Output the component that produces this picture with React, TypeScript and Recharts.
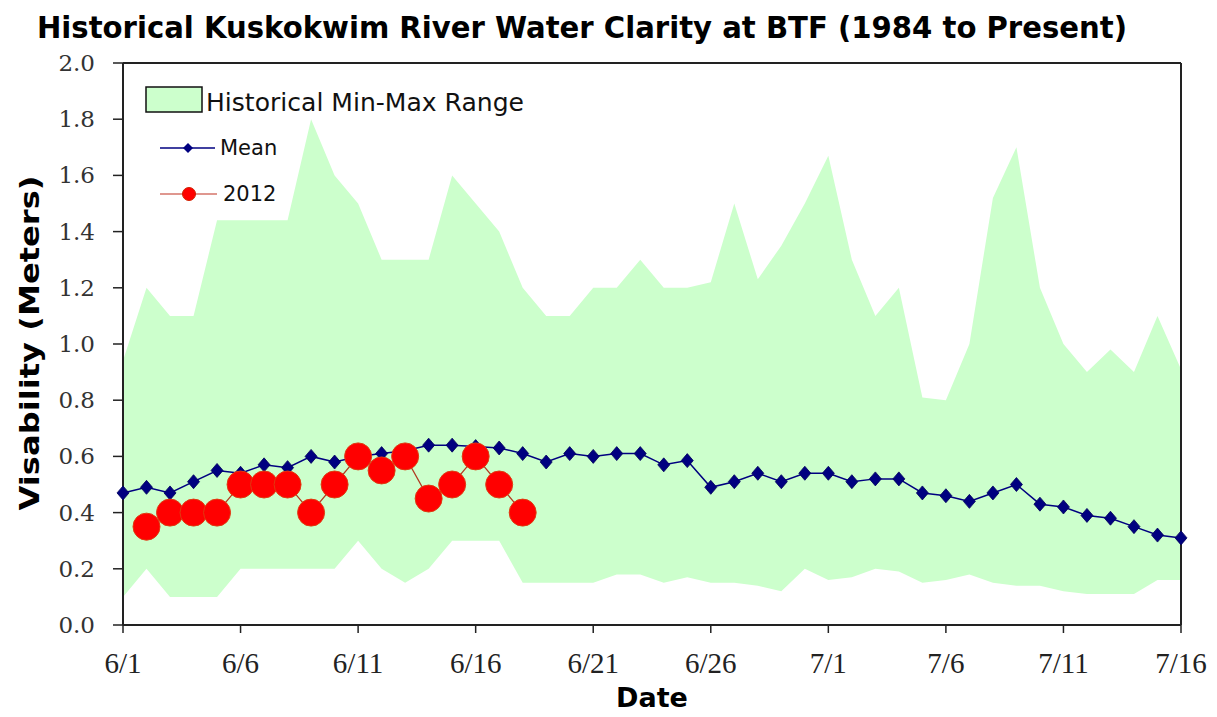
import React from 'react';
import {
  ComposedChart, Area, Line, XAxis, YAxis, ReferenceLine
} from 'recharts';

const dates = [
  '6/1', '6/2', '6/3', '6/4', '6/5', '6/6', '6/7', '6/8', '6/9', '6/10',
  '6/11', '6/12', '6/13', '6/14', '6/15', '6/16', '6/17', '6/18', '6/19', '6/20',
  '6/21', '6/22', '6/23', '6/24', '6/25', '6/26', '6/27', '6/28', '6/29', '6/30',
  '7/1', '7/2', '7/3', '7/4', '7/5', '7/6', '7/7', '7/8', '7/9', '7/10',
  '7/11', '7/12', '7/13', '7/14', '7/15', '7/16',
];

// historical max / min (meters)
const maxValues = [
  0.94, 1.2, 1.1, 1.1, 1.44, 1.44, 1.44, 1.44, 1.8, 1.6,
  1.5, 1.3, 1.3, 1.3, 1.6, 1.5, 1.4, 1.2, 1.1, 1.1,
  1.2, 1.2, 1.3, 1.2, 1.2, 1.22, 1.5, 1.23, 1.35, 1.5,
  1.67, 1.3, 1.1, 1.2, 0.81, 0.8, 1.0, 1.52, 1.7, 1.2,
  1.0, 0.9, 0.98, 0.9, 1.1, 0.91,
];
const minValues = [
  0.1, 0.2, 0.1, 0.1, 0.1, 0.2, 0.2, 0.2, 0.2, 0.2,
  0.3, 0.2, 0.15, 0.2, 0.3, 0.3, 0.3, 0.15, 0.15, 0.15,
  0.15, 0.18, 0.18, 0.15, 0.17, 0.15, 0.15, 0.14, 0.12, 0.2,
  0.16, 0.17, 0.2, 0.19, 0.15, 0.16, 0.18, 0.15, 0.14, 0.14,
  0.12, 0.11, 0.11, 0.11, 0.16, 0.16,
];
const meanValues = [
  0.47, 0.49, 0.47, 0.51, 0.55, 0.54, 0.57, 0.56, 0.6, 0.58,
  0.6, 0.61, 0.62, 0.64, 0.64, 0.635, 0.63, 0.61, 0.58, 0.61,
  0.6, 0.61, 0.61, 0.57, 0.585, 0.49, 0.51, 0.54, 0.51, 0.54,
  0.54, 0.51, 0.52, 0.52, 0.47, 0.46, 0.44, 0.47, 0.5, 0.43,
  0.42, 0.39, 0.38, 0.35, 0.32, 0.31,
];
const values2012 = [
  null, 0.35, 0.4, 0.4, 0.4, 0.5, 0.5, 0.5, 0.4, 0.5,
  0.6, 0.55, 0.6, 0.45, 0.5, 0.6, 0.5, 0.4,
];

const xTicks = [0, 5, 10, 15, 20, 25, 30, 35, 40, 45];
const yTicks = [0, 0.2, 0.4, 0.6, 0.8, 1.0, 1.2, 1.4, 1.6, 1.8, 2.0];

const data = dates.map((d, i) => ({
  day: i,
  date: d,
  range: [minValues[i], maxValues[i]],
  mean: meanValues[i],
  y2012: values2012[i] ?? null,
}));

const Diamond = (props: any) => {
  const { cx, cy, index } = props;
  if (cx == null || cy == null) return null;
  return (
    <polygon
      key={`dm-${index}`}
      points={`${cx},${cy - 7} ${cx + 6},${cy} ${cx},${cy + 7} ${cx - 6},${cy}`}
      fill="#000080"
      stroke="#00005a"
      strokeWidth={0.8}
    />
  );
};

const XTick = (props: any) => {
  const { x, y, payload } = props;
  return (
    <text x={x} y={y + 40} textAnchor="middle" fontFamily="'Liberation Serif', serif"
      fontSize={29} fill="#222">
      {dates[payload.value]}
    </text>
  );
};

const YTick = (props: any) => {
  const { x, y, payload } = props;
  return (
    <text x={x} y={y + 8} textAnchor="end" fontFamily="'DejaVu Serif', serif"
      fontSize={23} fill="#333">
      {Number(payload.value).toFixed(1)}
    </text>
  );
};

const LegendBox = () => (
  <svg width={420} height={140} style={{ position: 'absolute', left: 140, top: 80 }}>
    <rect x={6} y={7} width={56} height={25} fill="#ccffcc" stroke="#111" strokeWidth={1.5} />
    <text x={66} y={31} fontFamily="'DejaVu Sans', sans-serif" fontSize={25}
      textLength={318} lengthAdjust="spacingAndGlyphs" fill="#111">
      Historical Min-Max Range
    </text>
    <line x1={20} y1={68} x2={75} y2={68} stroke="#000080" strokeWidth={1.5} />
    <polygon points="48,63 53,68 48,73 43,68" fill="#000080" />
    <text x={80} y={75} fontFamily="'DejaVu Sans', sans-serif" fontSize={21} fill="#111">Mean</text>
    <line x1={20} y1={114} x2={77} y2={114} stroke="#c03020" strokeWidth={1.2} />
    <circle cx={49} cy={114} r={6.5} fill="#ff0000" stroke="#d02000" />
    <text x={83} y={121} fontFamily="'DejaVu Sans', sans-serif" fontSize={21} fill="#111">2012</text>
  </svg>
);

export default function App() {
  return (
    <div style={{ position: 'absolute', left: 0, top: 0, width: 1217, height: 717, background: '#fff' }}>
      <svg width={1217} height={60} style={{ position: 'absolute', left: 0, top: 0 }}>
        <text x={582} y={38} textAnchor="middle" fontFamily="'DejaVu Sans', sans-serif"
          fontWeight="bold" fontSize={30} textLength={1090} lengthAdjust="spacingAndGlyphs" fill="#000">
          Historical Kuskokwim River Water Clarity at BTF (1984 to Present)
        </text>
      </svg>
      <ComposedChart
        width={1217}
        height={717}
        data={data}
        margin={{ top: 63, right: 36, bottom: 22, left: 43 }}
      >
        <XAxis
          dataKey="day"
          type="number"
          domain={[0, 45]}
          ticks={xTicks}
          interval={0}
          tick={<XTick />}
          tickSize={8}
          tickMargin={0}
          height={70}
          axisLine={{ stroke: '#222', strokeWidth: 2 }}
          tickLine={{ stroke: '#222', strokeWidth: 1.5 }}
          label={{
            value: 'Date', position: 'insideBottom', offset: -12,
            style: { fontFamily: "'DejaVu Sans', sans-serif", fontWeight: 'bold', fontSize: 27, fill: '#000' },
          }}
        />
        <YAxis
          type="number"
          domain={[0, 2]}
          ticks={yTicks}
          interval={0}
          width={80}
          tick={<YTick />}
          tickSize={10}
          tickMargin={18}
          axisLine={{ stroke: '#222', strokeWidth: 2 }}
          tickLine={{ stroke: '#222', strokeWidth: 1.5 }}
        />
        <Area
          dataKey="range"
          fill="#ccffcc"
          fillOpacity={1}
          stroke="none"
          isAnimationActive={false}
          legendType="none"
        />
        <ReferenceLine y={2} stroke="#222" strokeWidth={2} />
        <ReferenceLine x={45} stroke="#222" strokeWidth={2} />
        <Line
          dataKey="mean"
          stroke="#000080"
          strokeWidth={1.5}
          dot={Diamond}
          activeDot={false}
          isAnimationActive={false}
        />
        <Line
          dataKey="y2012"
          stroke="#b03a20"
          strokeWidth={1.2}
          dot={{ r: 13.5, fill: '#ff0000', stroke: '#e03a10', strokeWidth: 1 }}
          activeDot={false}
          connectNulls={false}
          isAnimationActive={false}
        />
      </ComposedChart>
      <LegendBox />
      <svg width={70} height={717} style={{ position: 'absolute', left: 0, top: 0 }}>
        <text transform="translate(39,343) rotate(-90)" textAnchor="middle"
          fontFamily="'DejaVu Sans', sans-serif" fontWeight="bold" fontSize={27}
          textLength={335} lengthAdjust="spacingAndGlyphs" fill="#000">
          Visability  (Meters)
        </text>
      </svg>
    </div>
  );
}
